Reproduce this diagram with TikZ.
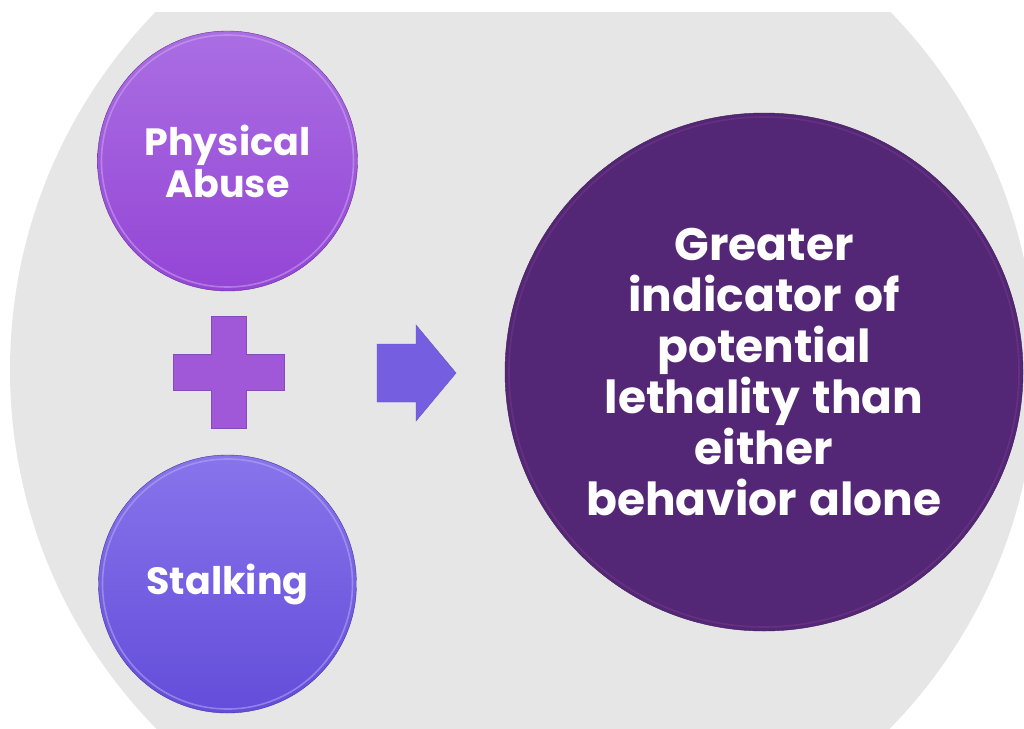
\documentclass[tikz,border=0pt]{standalone}
\usepackage{fontspec}
\setmainfont{Poppins}[WordSpace=1.3]
\usepackage{xcolor}
\usepackage{tikz}
\usetikzlibrary{positioning}
\definecolor{bggray}{HTML}{E6E6E6}
\definecolor{abusetop}{HTML}{AA6EE3}
\definecolor{abusebot}{HTML}{9445D5}
\definecolor{stalktop}{HTML}{8874EB}
\definecolor{stalkbot}{HTML}{634DDA}
\definecolor{lethal}{HTML}{532775}
\definecolor{plusfill}{HTML}{A057D8}
\definecolor{arrowfill}{HTML}{765EE0}
\tikzstyle{bubble} = [circle, inner sep=0pt, align=center, text=white, font=\bfseries\fontsize{38}{42}\selectfont]
\tikzstyle{rim} = [line width=1.6pt, opacity=0.55]

\begin{document}
\begin{tikzpicture}[x=1pt, y=-1pt]
    \useasboundingbox (0,0) rectangle (1024,728);
    % grey backdrop, cut flat along the top
    \begin{scope}
        \clip (0,12) rectangle (1024,728);
        \fill[bggray] (523,370) circle (513);
    \end{scope}

    \node[bubble, minimum size=260, top color=abusetop, bottom color=abusebot, draw=abusebot!70!black] (abuse) at (227.5,161) {Physical\\Abuse};
    \draw[rim, draw=abusetop!60!white] (abuse.center) circle (126);

    \node[bubble, minimum size=258, top color=stalktop, bottom color=stalkbot, draw=stalkbot!70!black] (stalk) at (227.5,584) {Stalking};
    \draw[rim, draw=stalktop!60!white] (stalk.center) circle (125);

    \node[bubble, minimum size=518, fill=lethal, draw=lethal!75!black, font=\bfseries\fontsize{45.5}{51}\selectfont] (lethality) at (764,372) {Greater\\indicator of\\potential\\lethality than\\either\\behavior alone};
    \draw[rim, draw=lethal!50!violet!80!white, opacity=0.35] (lethality.center) circle (255);

    % plus sign
    \draw[fill=plusfill, draw=plusfill!85!black] (211,316) -- (246,316) -- (246,354) -- (284,354) -- (284,390) -- (246,390)
        -- (246,428) -- (211,428) -- (211,390) -- (173,390) -- (173,354) -- (211,354) -- cycle;

    % block arrow
    \draw[fill=arrowfill, draw=arrowfill!85!black] (377,344) -- (416,344) -- (416,325) -- (456,373) -- (416,421)
        -- (416,402) -- (377,402) -- cycle;
\end{tikzpicture}
\end{document}
